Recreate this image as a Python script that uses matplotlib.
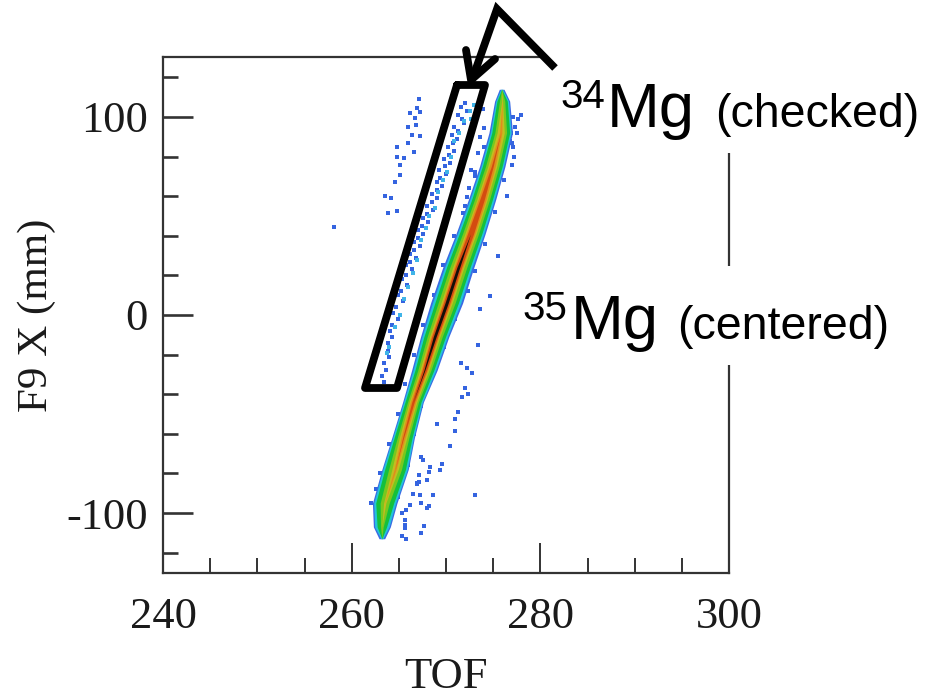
import matplotlib
matplotlib.use("Agg")
import matplotlib.pyplot as plt
from matplotlib.lines import Line2D
from matplotlib.patches import Rectangle
from matplotlib.transforms import Affine2D
from matplotlib.ticker import MultipleLocator

# Main 35Mg band
band_mm = [114, 108, 92, 75, 58, 41, 24, 6, -11, -28, -44, -62, -78, -95, -107, -113]
band_centre = [275.9, 275.95, 275.8, 274.9, 273.8, 272.6, 271.3, 270.06, 268.8, 267.7, 266.5, 265.45, 264.6, 263.5, 263.2, 263.2]
hw_blue = [.25, .8, 1.25, 1.35, 1.45, 1.55, 1.65, 1.7, 1.5, 1.35, 1.1, 1.2, 1.4, 1.3, .9, .3]
hw_cyan = [.1, .68, 1.1, 1.2, 1.3, 1.4, 1.45, 1.5, 1.35, 1.2, 1.0, 1.1, 1.3, 1.16, .76, .1]
hw_green = [0, .55, .95, 1.05, 1.1, 1.2, 1.25, 1.25, 1.15, 1.0, .85, .95, 1.1, .95, .5, 0]
hw_lime = [0, .28, .62, .72, .8, .85, .9, .9, .8, .7, .58, .62, .68, .48, .14, 0]
hw_yellow = [0, .05, .38, .48, .55, .6, .6, .6, .55, .48, .4, .4, .34, .12, 0, 0]
hw_orange = [0, 0, .12, .32, .42, .46, .46, .46, .43, .35, .28, .22, .1, 0, 0, 0]
hw_red = [0, 0, 0, .1, .24, .32, .34, .34, .32, .24, .13, .05, 0, 0, 0, 0]
hw_black = [0, 0, 0, 0, 0, 0, .15, .17, .15, .05, 0, 0, 0, 0, 0, 0]

# 34Mg locus inside the drawn box
mg34_tof = [272.0, 271.6, 272.2, 271.3, 271.7, 271.9, 270.9, 271.3, 270.6, 271.2, 270.7, 270.2, 270.9, 270.3, 269.8, 270.4, 269.9, 269.3, 270.0, 269.4, 269.0, 269.6, 269.0, 268.5, 269.0, 268.5, 268.0, 268.6, 268.0, 267.6, 268.1, 267.5, 267.0, 267.6, 267.0, 266.6, 267.2, 266.6, 266.2, 266.8, 266.2, 265.8, 266.4, 265.8, 265.3, 265.9, 265.2, 264.9, 265.4, 264.7, 264.4, 264.9, 264.3, 264.1, 264.3, 263.9, 263.8, 264.0, 263.4, 263.6, 263.2, 263.4]
mg34_mm = [107, 105, 103, 101, 99, 97, 95, 93, 91, 89, 87, 85, 83, 81, 79, 77, 75, 73, 71, 69, 67, 65, 63, 61, 59, 57, 55, 53, 51, 49, 47, 45, 43, 41, 39, 37, 35, 33, 31, 29, 27, 25, 23, 20, 18, 15, 12, 10, 7, 4, 1, -2, -5, -8, -11, -14, -18, -21, -24, -28, -31, -34]

# Paler points of the same locus
pale_tof = [272.5, 271.9, 271.4, 270.8, 270.5, 270.1, 269.7, 269.2, 268.8, 268.2, 267.9, 267.3, 266.9, 266.5, 266.0, 265.6, 265.1, 264.6, 264.0, 273.0, 272.6, 263.7]
pale_mm = [103, 98, 92, 88, 80, 72, 68, 62, 54, 50, 44, 38, 28, 21, 14, 8, 0, -6, -16, 106, 99, -19]

# Sparse group left of the box
left_tof = [267.15, 266.9, 267.2, 266.2, 266.7, 266.0, 266.8, 266.4, 267.2, 266.0, 264.8, 266.6, 264.8, 265.5, 265.1, 265.1, 264.6, 263.5, 264.2, 263.8, 264.8, 258.1]
left_mm = [109.1, 104.4, 102.7, 101.8, 99.3, 95.1, 96, 90.9, 90.4, 86.7, 85, 82.5, 80, 79.1, 75.7, 70.7, 67, 60, 58.9, 51.3, 52.3, 44.5]

# Sparse group to the lower right of the band
low_tof = [274.7, 273.4, 272.2, 272.8, 272, 272.3, 271.7, 271.3, 271, 271, 270.4, 267.3, 267.6, 269.55, 268.3, 269.4, 268.2, 267.1, 268, 267.1, 266.9, 273.1, 266.5, 267.2, 268.6, 267.4, 268.2, 268, 266.2, 265.8, 265.7, 265.7, 265.7, 267.7, 267.4, 265.3, 265.8]
low_mm = [9.6, -15.2, -27, -29.5, -37, -40, -41.3, -49.2, -52.7, -58.5, -66.2, -71.6, -73.3, -75, -76.7, -78.3, -79.2, -80.9, -83.4, -84.2, -85.1, -91, -90.5, -91, -91, -94.7, -96.4, -97.4, -96, -98.6, -103.6, -106.1, -107.8, -106.6, -110.3, -111.5, -112.9]

# Loose points on the edges of the band
fringe_tof = [278, 277.3, 277.1, 277.5, 277, 277.15, 277, 274, 273.6, 273.4, 272.6, 272.4, 272.2, 271.85, 277.6, 276.9, 277.2, 273.9, 273.1,
              274.0, 276.8, 273.1, 276.1, 272.0, 275.2, 270.9, 274.1, 269.7, 273.1, 268.7, 272.3, 267.6, 271.0, 266.6, 269.8, 265.7, 268.5,
              264.9, 267.3, 264.0, 266.6, 263.0, 266.0, 262.1, 264.9, 274.5, 276.5, 272.6, 275.5, 270.3, 273.6, 268.2, 271.6, 266.2, 269.0, 264.4, 266.9, 262.6, 265.3]
fringe_mm = [101, 95, 100, 91.7, 86.7, 85, 75.7, 94.3, 90, 81.6, 73.2, 64, 59.7, 51.3, 99, 92, 80, 104, 72,
             85, 88, 70, 68, 55, 52, 40, 36, 25, 22, 10, 12, -5, -2, -20, -16, -35, -30,
             -50, -46, -65, -60, -80, -76, -95, -92, 78, 60, 46, 30, 16, 3, -12, -24, -40, -55, -70, -85, -88, -100]

xticks_major = [240, 260, 280, 300]
yticks_major = [-100, 0, 100]

fig = plt.figure(figsize=(9.28, 6.98), dpi=100)
ax = fig.add_axes([163 / 928, (698 - 573) / 698, 566 / 928, 516 / 698])
px = Affine2D().scale(1 / 928, -1 / 698).translate(0, 1) + fig.transFigure

pts = dict(marker="s", s=7, linewidths=0, color="#3564e0", zorder=1.5)
ax.scatter(fringe_tof, fringe_mm, **pts)

layers = [(hw_blue, "#3a6ae4"), (hw_cyan, "#22c4d8"), (hw_green, "#14c03c"),
          (hw_lime, "#78c81e"), (hw_yellow, "#c4bc20"), (hw_orange, "#e08c1c"),
          (hw_red, "#d44c10"), (hw_black, "#141008")]
for hw, colour in layers:
    ax.fill_betweenx(band_mm,
                     [c - h for c, h in zip(band_centre, hw)],
                     [c + h for c, h in zip(band_centre, hw)],
                     color=colour, linewidth=0, zorder=2)

ax.scatter(mg34_tof, mg34_mm, **pts)
ax.scatter(left_tof, left_mm, **pts)
ax.scatter(low_tof, low_mm, **pts)
ax.scatter(pale_tof, pale_mm, **dict(pts, color="#3fb4e8"))

ax.set_xlim(240, 300)
ax.set_ylim(-130.3, 130.3)
ax.set_xticks(xticks_major)
ax.set_yticks(yticks_major)
ax.xaxis.set_minor_locator(MultipleLocator(5))
ax.yaxis.set_minor_locator(MultipleLocator(20))
ax.tick_params(axis="x", which="major", direction="in", length=21.6, width=1.4, color="#333333",
               labelsize=32, pad=17)
ax.tick_params(axis="x", which="minor", direction="in", length=10.8, width=1.4, color="#333333")
ax.tick_params(axis="y", which="major", direction="in", length=21.6, width=1.9, color="#333333",
               labelsize=32, pad=11)
ax.tick_params(axis="y", which="minor", direction="in", length=10.8, width=1.9, color="#333333")
ax.set_yticklabels(["-100", "0", "100"])
for lab in ax.get_xticklabels() + ax.get_yticklabels():
    lab.set_family("Liberation Serif")
    lab.set_color("#1a1a1a")
ax.set_xlabel("TOF", family="Liberation Serif", fontsize=32, color="#1a1a1a", labelpad=15)
ax.set_ylabel("F9 X (mm)", family="Liberation Serif", fontsize=31, color="#1a1a1a", labelpad=7)
for side in ax.spines:
    ax.spines[side].set_linewidth(1.6)
    ax.spines[side].set_color("#333333")

# White boxes of the pasted labels, hiding parts of the frame
for x0, y0, x1, y1 in [(541, 45, 745, 153), (520, 266, 745, 365)]:
    fig.add_artist(Rectangle((x0, y0), x1 - x0, y1 - y0, transform=px, facecolor="white",
                             edgecolor="none", zorder=5))

# Hand-drawn box and arrow
ann = dict(transform=px, color="black", lw=5.6, zorder=6, solid_capstyle="round", solid_joinstyle="round")
fig.add_artist(Line2D([457, 485, 397, 365, 457], [85, 85, 388, 388, 85], **ann))
fig.add_artist(Line2D([555, 497, 472], [68, 9, 80], **dict(ann, solid_capstyle="butt", solid_joinstyle="miter")))
fig.add_artist(Line2D([466, 471, 495], [50, 80, 59], **ann))

sans = "Liberation Sans"
def label(x, y, s, size):
    fig.text(x, y, s, transform=px, family=sans, fontsize=size, color="black",
             va="baseline", ha="left", zorder=7)

label(560, 108, "34", 29)
label(607, 127, "Mg", 45.5)
label(715, 127, "(checked)", 33.5)
label(522, 320, "35", 29)
label(571, 339, "Mg", 45.5)
label(677, 339, "(centered)", 33.5)

# Title cut off by the top edge: only its descenders survive
label(140, -9.5, "(", 33)
label(225, -9.5, "g", 33)
label(601, -9.5, "g", 33)
label(733, -9.5, ")", 33)

fig.savefig("out.png", dpi=100)
